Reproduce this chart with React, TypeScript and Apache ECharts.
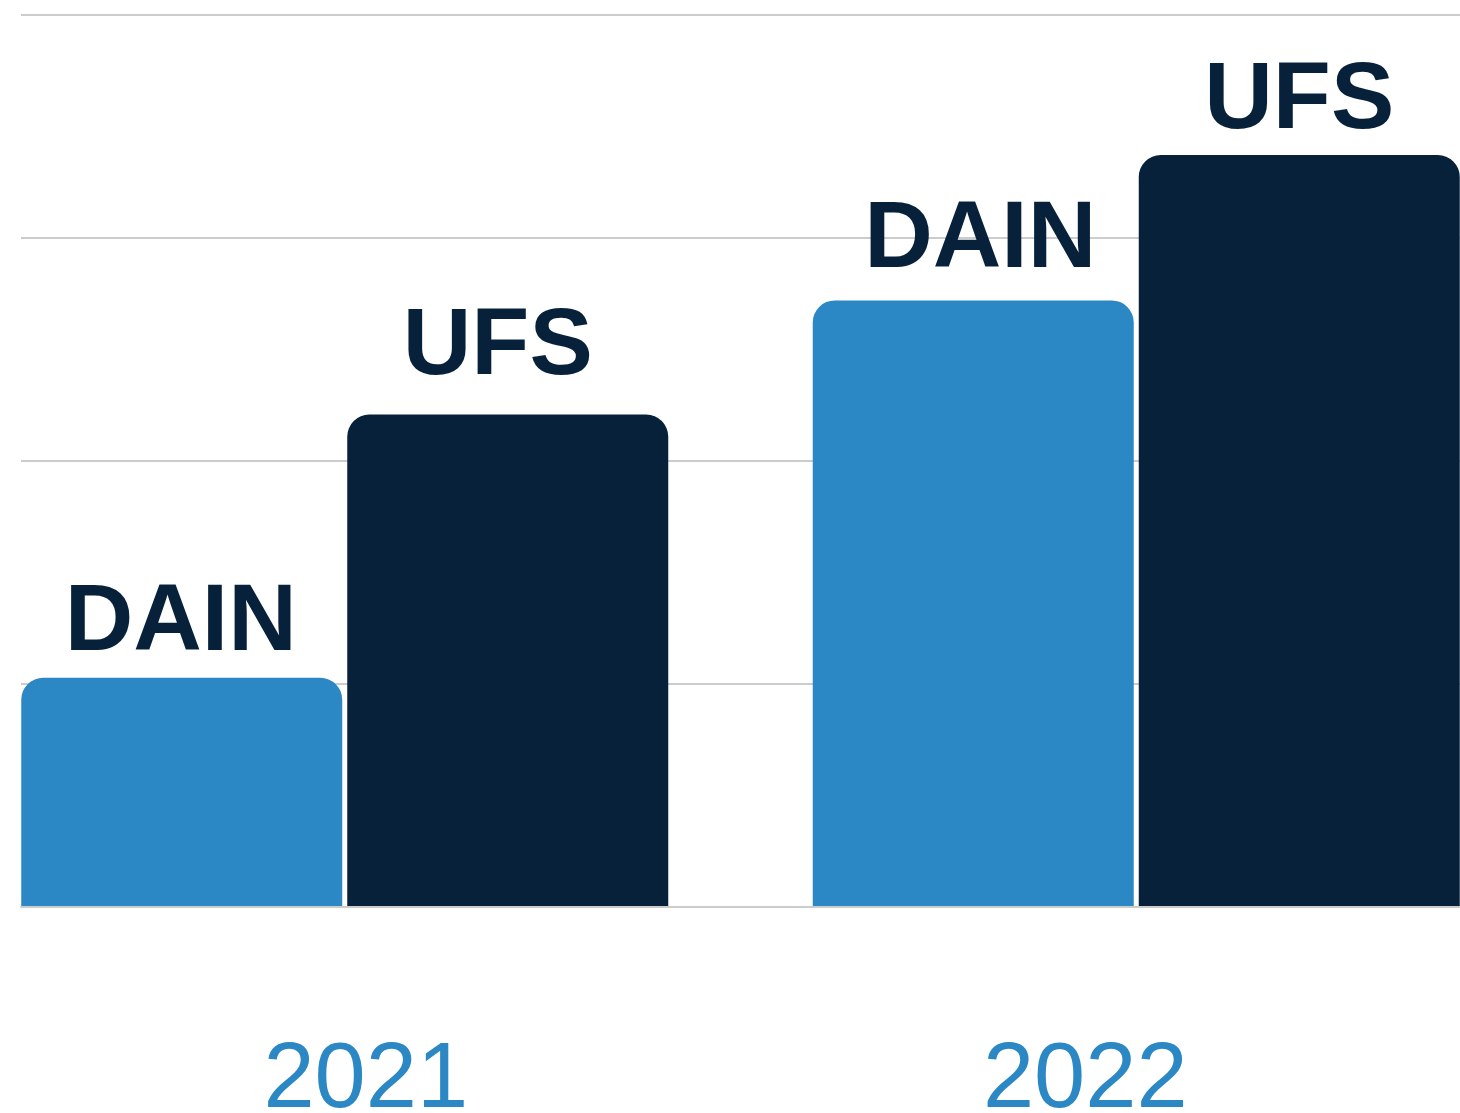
import React, { useEffect, useRef } from "react";
import * as echarts from "echarts";

const categories = ["2021", "2022"];
const seriesNames = ["DAIN", "UFS"];
const dainValues = [25.7, 68.0];
const ufsValues = [55.2, 84.3];
const yTicks = { min: 0, max: 100, interval: 25 };
// small label nudges [dx, dy] per category, as in the reference
const dainLabelOffsets = [[-1, -1], [7, -7]];
const ufsLabelOffsets = [[-10, -14], [0, -1]];

export default function App() {
  const ref = useRef<HTMLDivElement>(null);
  useEffect(() => {
    if (!ref.current) return;
    const chart = echarts.init(ref.current, null, { renderer: "svg" });
    const labelStyle = {
      show: true,
      position: "top",
      distance: 12,
      formatter: "{a}",
      fontFamily: "Liberation Sans, Arial, sans-serif",
      fontWeight: "bold",
      fontSize: 95,
      color: "#08213b",
    };
    const build = (vals: number[], offs: number[][]) =>
      vals.map((v, i) => ({ value: v, label: { offset: offs[i] } }));
    chart.setOption({
      animation: false,
      backgroundColor: "#ffffff",
      grid: [
        { left: 21, right: 0, top: 15, bottom: 206, containLabel: false, outerBoundsMode: "none" },
        { left: -51, right: -72, top: 15, bottom: 206, containLabel: false, outerBoundsMode: "none" },
      ],
      xAxis: [
        {
          type: "category",
          gridIndex: 0,
          data: categories,
          axisLine: { show: true, lineStyle: { color: "#cccccc", width: 2 } },
          axisTick: { show: false },
          axisLabel: {
            margin: 133,
            fontFamily: "Liberation Sans, Arial, sans-serif",
            fontSize: 92,
            lineHeight: 70,
            color: "#2b88c5",
            padding: [0, 30, 0, 0],
          },
          z: 5,
        },
        {
          type: "category",
          gridIndex: 1,
          data: categories,
          axisLine: { show: false },
          axisTick: { show: false },
          axisLabel: { show: false },
        },
      ],
      yAxis: [
        {
          type: "value",
          gridIndex: 0,
          ...yTicks,
          axisLabel: { show: false },
          axisLine: { show: false },
          axisTick: { show: false },
          splitLine: { show: true, lineStyle: { color: "#cccccc", width: 2 } },
        },
        {
          type: "value",
          gridIndex: 1,
          ...yTicks,
          axisLabel: { show: false },
          axisLine: { show: false },
          axisTick: { show: false },
          splitLine: { show: false },
        },
      ],
      series: [
        {
          name: seriesNames[0],
          type: "bar",
          xAxisIndex: 1,
          yAxisIndex: 1,
          data: build(dainValues, dainLabelOffsets),
          barWidth: 321,
          barGap: "1.56%",
          itemStyle: { color: "#2b88c5", borderRadius: [22, 22, 0, 0] },
          label: labelStyle,
        },
        {
          name: seriesNames[1],
          type: "bar",
          xAxisIndex: 1,
          yAxisIndex: 1,
          data: build(ufsValues, ufsLabelOffsets),
          barWidth: 321,
          barGap: "1.56%",
          itemStyle: { color: "#08213b", borderRadius: [22, 22, 0, 0] },
          label: labelStyle,
        },
      ],
    });
    return () => chart.dispose();
  }, []);
  return (
    <div
      ref={ref}
      style={{ position: "fixed", left: 0, top: 0, width: 1460, height: 1113 }}
    />
  );
}
